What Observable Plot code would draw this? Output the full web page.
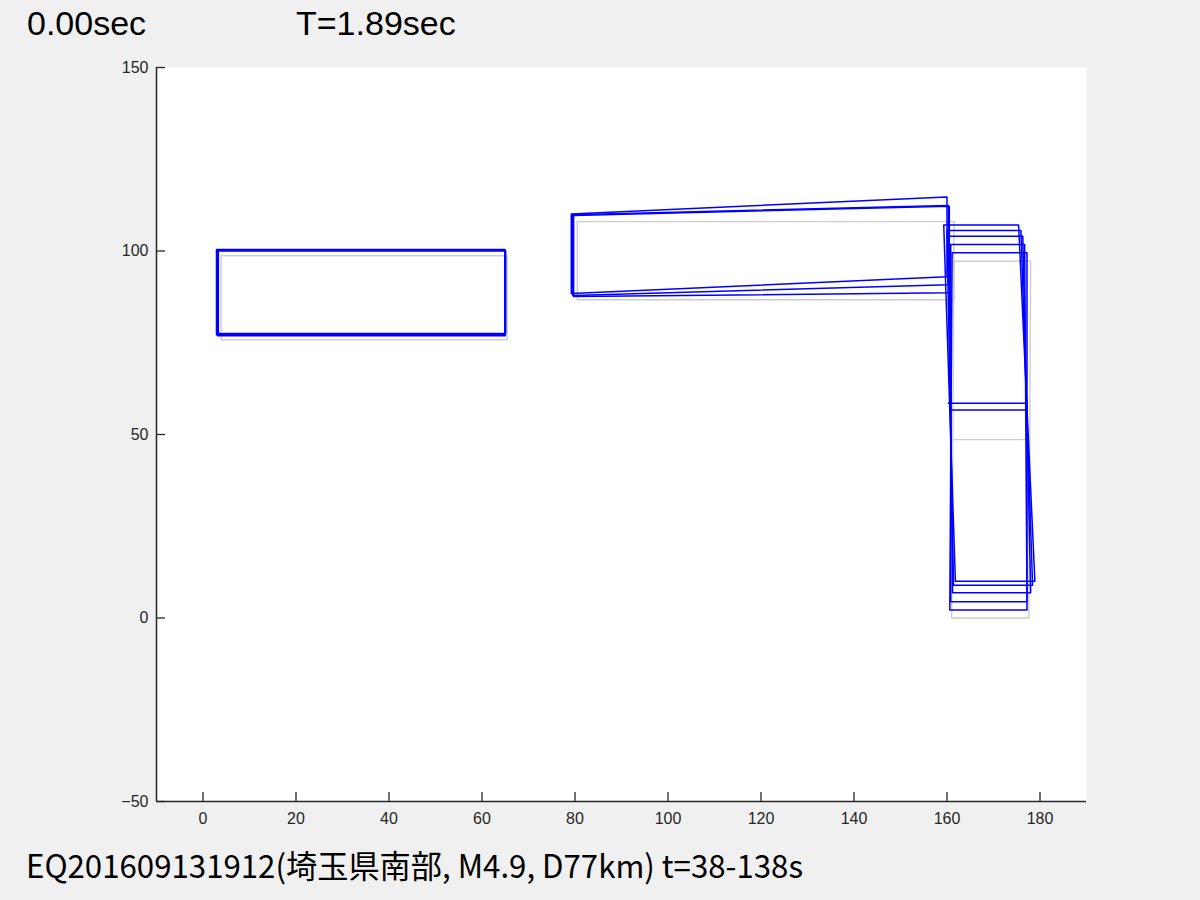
<!DOCTYPE html>
<html>
<head>
<meta charset="utf-8">
<script src="https://cdn.jsdelivr.net/npm/d3@7"></script>
<script src="https://cdn.jsdelivr.net/npm/@observablehq/plot@0.6"></script>
<style>
  html, body { margin: 0; padding: 0; background: #f0f0f0; }
  #wrap { width: 1200px; height: 900px; position: relative; overflow: hidden; background: #f0f0f0; }
  svg { display: block; }
</style>
</head>
<body>
<div id="wrap">
  <svg id="title" width="1200" height="50"></svg>
  <div id="chart"></div>
  <svg id="caption" width="1200" height="60"></svg>
</div>
<script>
// ---- texts ----
const timeLabel = "0.00sec";
const periodLabel = "T=1.89sec";
const captionText = "EQ201609131912(埼玉県南部, M4.9, D77km) t=38-138s";

// ---- axes ----
const xTicks = [0, 20, 40, 60, 80, 100, 120, 140, 160, 180];
const yTicks = [-50, 0, 50, 100, 150];
const xDomain = [-10, 190];
const yDomain = [-50, 150];

// ---- undeformed outline (grey), corner points [x, y] ----
const baseWest    = [[3.9, 75.8], [65.4, 75.8], [65.4, 98.7], [3.9, 98.7], [3.9, 75.8]];
const baseCenter  = [[80.5, 86.7], [161.5, 86.7], [161.5, 108.0], [80.5, 108.0], [80.5, 86.7]];
const baseEast    = [[161.0, 0], [177.6, 0], [178.0, 97.2], [161.5, 97.2], [161.0, 0]];
const baseEastMid = [[161.2, 48.6], [177.8, 48.6]];

// ---- deformed snapshots (blue) ----
// west block
const westLeftX  = [2.9, 3.1, 3.3];
const westRightX = [64.9, 65.0, 65.1];
const westTopY   = [100.4, 100.2, 100.0];
const westBotY   = [77.2, 76.9, 77.5];
// center block
const centerLeftX  = [79.2, 79.5, 79.7];
const centerRightX = [160.0, 160.3, 160.5];
const centerTopLY  = [110.1, 109.9, 109.7];
const centerBotLY  = [88.4, 87.9, 87.6];
const centerTopRY  = [114.7, 112.4, 112.2];
const centerBotRY  = [93.0, 90.8, 88.6];
// east wing
const eastTopY  = [107.1, 105.6, 104.0, 101.8, 99.5];
const eastTopLX = [159.3, 160.0, 160.4, 160.8, 161.1];
const eastTopRX = [175.4, 175.9, 176.3, 176.7, 177.2];
const eastBotY  = [10.0, 8.9, 6.9, 4.4, 2.2];
const eastBotLX = [161.8, 161.4, 161.2, 160.8, 160.6];
const eastBotRX = [178.9, 178.4, 178.0, 177.2, 177.2];
const eastMidY  = [58.5, 56.7];
const eastMidLX = [160.3, 161.1];
const eastMidRX = [177.2, 177.2];

// ---- build tables ----
const baseRows = [];
const snapRows = [];
function addPath(rows, id, pts) { pts.forEach(([x, y], i) => rows.push({id, i, x, y})); }

addPath(baseRows, "bw", baseWest);
addPath(baseRows, "bc", baseCenter);
addPath(baseRows, "be", baseEast);
addPath(baseRows, "bm", baseEastMid);

westLeftX.forEach((_, k) => addPath(snapRows, "w" + k, [
  [westLeftX[k], westBotY[k]], [westRightX[k], westBotY[k]],
  [westRightX[k], westTopY[k]], [westLeftX[k], westTopY[k]], [westLeftX[k], westBotY[k]]
]));
centerLeftX.forEach((_, k) => addPath(snapRows, "c" + k, [
  [centerLeftX[k], centerBotLY[k]], [centerRightX[k], centerBotRY[k]],
  [centerRightX[k], centerTopRY[k]], [centerLeftX[k], centerTopLY[k]], [centerLeftX[k], centerBotLY[k]]
]));
eastTopY.forEach((_, k) => addPath(snapRows, "e" + k, [
  [eastBotLX[k], eastBotY[k]], [eastBotRX[k], eastBotY[k]],
  [eastTopRX[k], eastTopY[k]], [eastTopLX[k], eastTopY[k]], [eastBotLX[k], eastBotY[k]]
]));
eastMidY.forEach((_, k) => addPath(snapRows, "m" + k, [
  [eastMidLX[k], eastMidY[k]], [eastMidRX[k], eastMidY[k]]
]));

const axisColor = "#262626";
const tickLen = 9;
const chart = Plot.plot({
  width: 1200,
  height: 790,
  marginTop: 17,
  marginBottom: 39,
  marginLeft: 156,
  marginRight: 114,
  style: {background: "transparent", fontFamily: "'Liberation Sans', Arial, sans-serif", fontSize: "16px", color: axisColor},
  x: {domain: xDomain, label: null},
  y: {domain: yDomain, label: null},
  marks: [
    Plot.frame({fill: "white", stroke: "none"}),
    Plot.line(baseRows, {x: "x", y: "y", z: "id", stroke: "#cdcdcd", strokeWidth: 1.4}),
    Plot.line(snapRows, {x: "x", y: "y", z: "id", stroke: "#0000ff", strokeWidth: 1.5}),
    Plot.ruleX([xDomain[0]], {stroke: axisColor, strokeWidth: 1.5}),
    Plot.ruleY([yDomain[0]], {stroke: axisColor, strokeWidth: 1.5}),
    // inward ticks: shift the tick inside the frame and compensate label padding
    Plot.axisX(xTicks, {tickSize: tickLen, dy: -tickLen, tickPadding: 11, fontSize: 16, strokeWidth: 1.3, label: null}),
    Plot.axisY(yTicks, {tickSize: tickLen, dx: tickLen, tickPadding: 8, fontSize: 16, strokeWidth: 1.3, label: null})
  ]
});
document.getElementById("chart").appendChild(chart);

// ---- title & caption ----
const ns = "http://www.w3.org/2000/svg";
function addText(svgId, str, x, y, attrs) {
  const t = document.createElementNS(ns, "text");
  t.setAttribute("x", x); t.setAttribute("y", y);
  for (const k in attrs) t.setAttribute(k, attrs[k]);
  t.textContent = str;
  document.getElementById(svgId).appendChild(t);
}
addText("title", timeLabel, 27, 35, {"font-family": "'Liberation Sans', Arial, sans-serif", "font-size": 34, fill: "#000"});
addText("title", periodLabel, 296, 35, {"font-family": "'Liberation Sans', Arial, sans-serif", "font-size": 34, fill: "#000"});
addText("caption", captionText, 26, 38, {"font-family": "'Noto Sans CJK JP', sans-serif", "font-size": 32, fill: "#000", textLength: 777, lengthAdjust: "spacingAndGlyphs"});
</script>
</body>
</html>
